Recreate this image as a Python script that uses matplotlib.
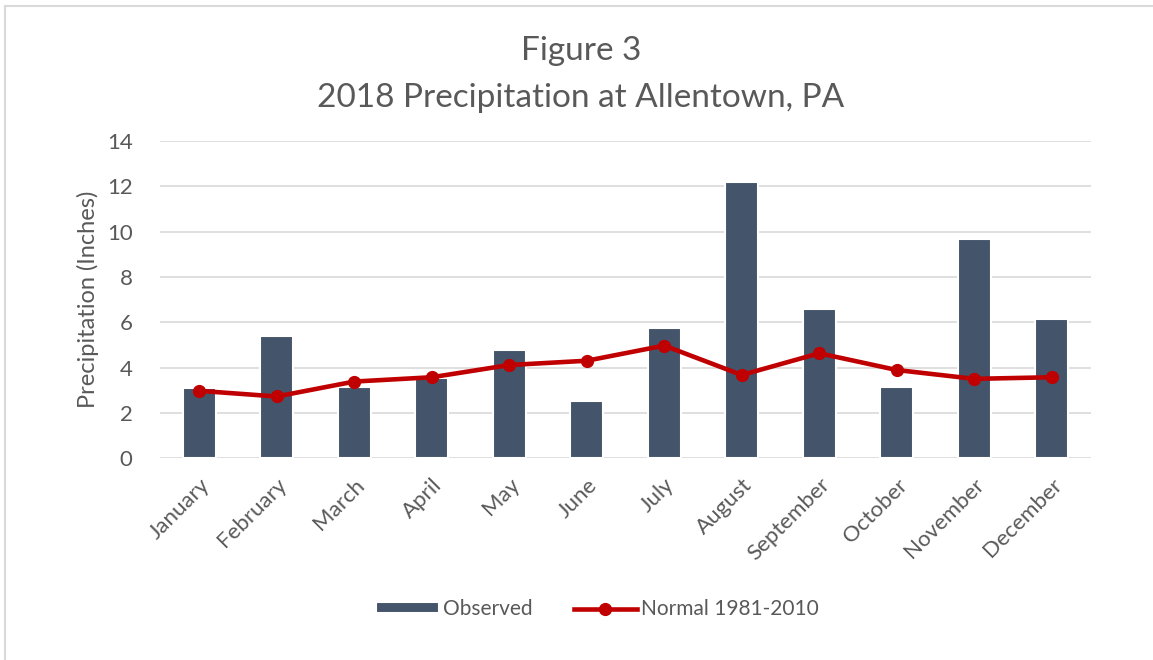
import numpy as np
import matplotlib.pyplot as plt
from matplotlib.lines import Line2D

plt.rcParams['font.family'] = ['Lato', 'DejaVu Sans']

# Monthly values (inches)
months = ['January', 'February', 'March', 'April', 'May', 'June',
          'July', 'August', 'September', 'October', 'November', 'December']
observed = [3.08, 5.41, 3.16, 3.53, 4.79, 2.53, 5.74, 12.18, 6.58, 3.14, 9.70, 6.14]
normal = [2.97, 2.72, 3.38, 3.57, 4.11, 4.30, 4.97, 3.67, 4.63, 3.89, 3.50, 3.57]
yticks = [0, 2, 4, 6, 8, 10, 12, 14]

text_color = '#595959'

fig = plt.figure(figsize=(11.53, 6.6), dpi=100)
ax = fig.add_axes([0.1392, 0.306, 0.8066, 0.480])

x = np.arange(len(months))
bars = ax.bar(x, observed, width=0.42, color='#44546a', edgecolor='white',
              linewidth=1.5, zorder=2)
line, = ax.plot(x, normal, color='#c00000', linewidth=3.3, marker='o', markersize=8.5,
                zorder=3)

ax.set_xlim(-0.5, len(months) - 0.5)
ax.set_ylim(0, 14)
ax.set_yticks(yticks)
ax.set_xticks(x)
ax.set_xticklabels(months, rotation=45, ha='right', rotation_mode='anchor')
ax.grid(axis='y', color='#d9d9d9', linewidth=1.2, zorder=0)
ax.set_axisbelow(True)
for s in ax.spines.values():
    s.set_visible(False)
ax.tick_params(axis='both', length=0, labelsize=16, colors=text_color)
ax.tick_params(axis='x', pad=12)
ax.tick_params(axis='y', pad=20)
ax.set_ylabel('Precipitation (Inches)', fontsize=17, color=text_color, labelpad=6)

fig.text(0.504, 0.922, 'Figure 3', ha='center', va='center', fontsize=24, color=text_color)
fig.text(0.504, 0.852, '2018 Precipitation at Allentown, PA', ha='center', va='center',
         fontsize=24, color=text_color)

leg = fig.legend([bars, line], ['Observed', 'Normal 1981-2010'], loc='center',
                 bbox_to_anchor=(0.518, 0.077), ncol=2, frameon=False,
                 fontsize=15, handlelength=3.0, handleheight=0.45,
                 columnspacing=2.0, handletextpad=0.2)
for t in leg.get_texts():
    t.set_color(text_color)

# chart frame
fig.add_artist(Line2D([0.0045, 0.0045], [0, 0.991], color='#d9d9d9', linewidth=1.5))
fig.add_artist(Line2D([0.0045, 1.0], [0.991, 0.991], color='#d9d9d9', linewidth=1.5))

fig.savefig('out.png', dpi=100)
